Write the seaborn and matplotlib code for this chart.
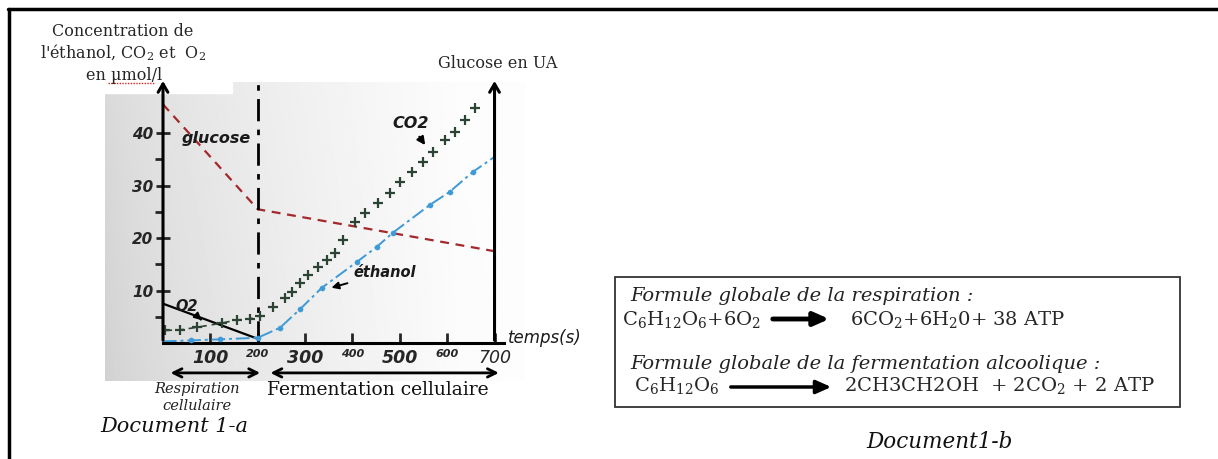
import numpy as np
import pandas as pd
import matplotlib
matplotlib.use("Agg")
from matplotlib import pyplot as plt
from matplotlib.patches import Rectangle, FancyArrowPatch
from matplotlib.lines import Line2D
import seaborn as sns

sns.set_style("white")
plt.rcParams["font.family"] = ["DejaVu Sans"]
plt.rcParams["mathtext.fontset"] = "dejavuserif"

glucose_t = [0, 200, 700]
glucose_c = [45.5, 25.5, 17.5]

o2_t = [0, 200]
o2_c = [7.5, 0.8]

co2_resp_t = [5, 36, 72, 124, 156, 184, 205]
co2_resp_c = [2.4, 2.5, 3.0, 3.8, 4.4, 4.6, 5.2]
co2_ferm_t = [232, 257, 272, 289, 306, 327, 346, 363, 380, 405, 426, 454,
              479, 500, 525, 549, 570, 595, 616, 637, 658]
co2_ferm_c = [6.9, 8.6, 9.7, 11.4, 13.0, 14.5, 15.8, 17.1, 19.6, 23.0, 24.8, 26.7,
              28.6, 30.7, 32.6, 34.5, 36.4, 38.7, 40.2, 42.5, 44.8]

ethanol_t = [0, 60, 120, 200, 247, 290, 335, 410, 451, 485, 563, 605, 654, 700]
ethanol_c = [0.3, 0.5, 0.7, 1.0, 2.9, 6.5, 10.5, 15.5, 18.3, 21.0, 26.3, 28.8, 32.6, 35.5]

phase_switch = 200
t_end = 700
y_ticks = [10, 20, 30, 40]
y_minor = [5, 15, 25, 35]
x_ticks = [100, 200, 300, 400, 500, 600, 700]
x_labels = ["100", "200", "300", "400", "500", "600", "700"]

W, H = 1218, 459
fig = plt.figure(figsize=(W / 100, H / 100), dpi=100)
fig.patch.set_facecolor("white")


def fx(px):
    return px / W


def fy(py):
    return 1 - py / H


# fond "photo"
bg = fig.add_axes([fx(105), fy(381), fx(525 - 105), (381 - 82) / H], zorder=0)
gx = np.linspace(0, 1, 300)
gy = np.linspace(0, 1, 100)[:, None]
grad = 0.85 + 0.14 * np.clip(gx / 0.85, 0, 1) ** 0.7 - 0.03 * gy * (1 - gx)
bg.imshow(grad, cmap="gray", vmin=0, vmax=1, aspect="auto", extent=[0, 1, 0, 1])
bg.axis("off")
fig.patches.append(Rectangle((fx(100), fy(93)), fx(132), 12 / H, transform=fig.transFigure,
                             color="white", zorder=0.5))

# graphique principal
ax = fig.add_axes([fx(163), fy(343), fx(504 - 163), (343 - 86) / H], zorder=2)
ax.patch.set_alpha(0)

sns.lineplot(x=glucose_t, y=glucose_c, ax=ax, color="#a3282b", lw=1.6, linestyle=(0, (4, 3)))
sns.lineplot(x=o2_t, y=o2_c, ax=ax, color="black", lw=1.6)
sns.lineplot(x=ethanol_t, y=ethanol_c, ax=ax, color="#3d9ad6", lw=1.4, linestyle=(0, (7, 2, 1.5, 2)))
sns.scatterplot(x=ethanol_t[1:-1], y=ethanol_c[1:-1], ax=ax, color="#3d9ad6", s=14, edgecolor=None, zorder=3)
sns.lineplot(x=co2_resp_t, y=co2_resp_c, ax=ax, color="#2b4433", lw=1.2, linestyle=(0, (4, 3)))
sns.scatterplot(x=co2_resp_t + co2_ferm_t, y=co2_resp_c + co2_ferm_c, ax=ax, marker="+",
                color="#2b4433", s=42, linewidth=1.6, zorder=3)

ax.plot([phase_switch, phase_switch], [0, 50.5], color="black", lw=2,
        ls=(0, (8, 3, 2, 3)), clip_on=False)

# axes avec fleches
ax.annotate("", xy=(0, 50.5), xytext=(0, 0), annotation_clip=False,
            arrowprops=dict(arrowstyle="->,head_width=0.35,head_length=0.6", lw=2.2, color="black"))
ax.annotate("", xy=(t_end, 50.5), xytext=(t_end, 0), annotation_clip=False,
            arrowprops=dict(arrowstyle="->,head_width=0.35,head_length=0.6", lw=2.2, color="black"))

ax.set_xlim(0, 720)
ax.set_ylim(0, 49)
sns.despine(ax=ax, top=True, right=True, left=True)
ax.spines["bottom"].set_linewidth(2.2)
ax.spines["bottom"].set_color("black")

ax.set_yticks(y_ticks)
ax.set_yticks(y_minor, minor=True)
ax.tick_params(axis="y", which="major", left=True, direction="inout", length=10, width=2,
               labelsize=11, pad=2)
ax.tick_params(axis="y", which="minor", left=True, direction="out", length=6, width=2)
for lbl in ax.get_yticklabels():
    lbl.set_fontweight("bold")
    lbl.set_fontstyle("italic")

ax.set_xticks(x_ticks)
ax.set_xticklabels(x_labels)
ax.tick_params(axis="x", bottom=True, direction="in", length=7, width=2, pad=4)
for i, lbl in enumerate(ax.get_xticklabels()):
    lbl.set_fontstyle("italic")
    if i % 2 == 0:
        lbl.set_fontsize(12.5)
        lbl.set_fontweight("bold" if i < 6 else "normal")
    else:
        lbl.set_fontsize(8)
        lbl.set_fontweight("bold")
ax.set_xlabel("")
ax.set_ylabel("")

# etiquettes des courbes
lab = dict(fontsize=11.5, fontweight="bold", fontstyle="italic", color="#1a1a1a")
ax.text(112, 39, "glucose", ha="center", va="center", **lab)
ax.annotate("CO2", xy=(557, 37.3), xytext=(522, 41.8), ha="center", va="center",
            arrowprops=dict(arrowstyle="-|>,head_width=0.2,head_length=0.4", lw=1.6, color="black"), **lab)
ax.annotate("éthanol", xy=(350, 10.4), xytext=(468, 13.4), ha="center", va="center",
            arrowprops=dict(arrowstyle="-|>,head_width=0.2,head_length=0.4", lw=1.4, color="black"),
            **{**lab, "fontsize": 10.5})
ax.annotate("O2", xy=(86, 4.0), xytext=(50, 6.9), ha="center", va="center",
            arrowprops=dict(arrowstyle="-|>,head_width=0.2,head_length=0.4", lw=1.4, color="black"),
            **{**lab, "fontsize": 10.5})
ax.text(728, 1.0, "temps(s)", fontsize=12, fontstyle="italic", va="center", color="#1a1a1a")

# phases
ax.annotate("", xy=(10, -5.7), xytext=(phase_switch + 11, -5.7), annotation_clip=False,
            arrowprops=dict(arrowstyle="<->,head_width=0.3,head_length=0.6", lw=2, color="black"))
ax.annotate("", xy=(phase_switch + 21, -5.7), xytext=(t_end + 15, -5.7), annotation_clip=False,
            arrowprops=dict(arrowstyle="<->,head_width=0.3,head_length=0.6", lw=2, color="black"))

serif = "DejaVu Serif"
fig.text(fx(197), fy(389), "Respiration", family=serif, style="italic", fontsize=10.5,
         ha="center", va="center", color="#222")
fig.text(fx(197), fy(406), "cellulaire", family=serif, style="italic", fontsize=10.5,
         ha="center", va="center", color="#222")
fig.text(fx(378), fy(390), "Fermentation cellulaire", family=serif, fontsize=13.5,
         ha="center", va="center", color="#111")
fig.text(fx(174), fy(426), "Document 1-a", family=serif, style="italic", fontsize=15,
         ha="center", va="center", color="#111")
fig.text(fx(940), fy(442), "Document1-b", family=serif, style="italic", fontsize=15.5,
         ha="center", va="center", color="#111")

# titres des axes
fig.text(fx(123), fy(32), "Concentration de", family=serif, fontsize=11.5, ha="center", va="center")
fig.text(fx(123), fy(53), "l'éthanol, CO$_2$ et  O$_2$", family=serif, fontsize=11.5,
         ha="center", va="center")
fig.text(fx(124), fy(75), "en µmol/l", family=serif, fontsize=11.5, ha="center", va="center")
fig.lines.append(Line2D([fx(108), fx(154)], [fy(83), fy(83)], transform=fig.transFigure,
                        color="#e02020", lw=1, ls=(0, (1, 1))))
fig.text(fx(498), fy(63), "Glucose en UA", family=serif, fontsize=11.5, ha="center", va="center")

# encadre des formules
fs = 14
fig.patches.append(Rectangle((fx(615), fy(407)), fx(1180 - 615), (407 - 277) / H,
                             transform=fig.transFigure, fill=False, ec="#333333", lw=1.3))
fig.text(fx(630), fy(296), "Formule globale de la respiration :", family=serif, style="italic",
         fontsize=fs, va="center", color="#222")
fig.text(fx(622), fy(319), "C$_6$H$_{12}$O$_6$+6O$_2$", family=serif, fontsize=fs, va="center")
fig.text(fx(850), fy(319), "6CO$_2$+6H$_2$0+ 38 ATP", family=serif, fontsize=fs, va="center")
fig.text(fx(630), fy(364), "Formule globale de la fermentation alcoolique :", family=serif,
         style="italic", fontsize=fs, va="center", color="#222")
fig.text(fx(634), fy(386), "C$_6$H$_{12}$O$_6$", family=serif, fontsize=fs, va="center")
fig.text(fx(844), fy(386), "2CH3CH2OH  + 2CO$_2$ + 2 ATP", family=serif, fontsize=fs, va="center")
fig.patches.append(FancyArrowPatch((fx(770), fy(319)), (fx(832), fy(319)),
                   transform=fig.transFigure, arrowstyle="-|>,head_width=4,head_length=9",
                   lw=3.5, color="black"))
fig.patches.append(FancyArrowPatch((fx(728), fy(387)), (fx(834), fy(387)),
                   transform=fig.transFigure, arrowstyle="-|>,head_width=4,head_length=9",
                   lw=2.5, color="black"))

# cadre exterieur
fig.lines.append(Line2D([fx(8), 1], [fy(9), fy(9)], transform=fig.transFigure, color="black", lw=2.5))
fig.lines.append(Line2D([fx(9), fx(9)], [0, fy(9)], transform=fig.transFigure, color="black", lw=2.5))

fig.savefig("out.png", dpi=100)
